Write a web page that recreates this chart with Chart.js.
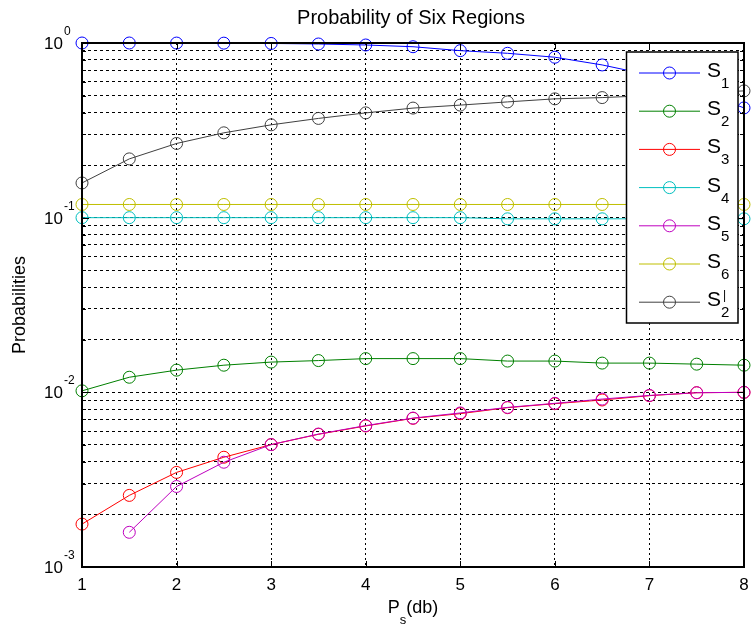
<!DOCTYPE html>
<html>
<head>
<meta charset="utf-8">
<script src="https://cdn.jsdelivr.net/npm/chart.js@4.4.1/dist/chart.umd.min.js"></script>
<style>
  html, body { margin: 0; padding: 0; background: #fff; }
</style>
</head>
<body>
<canvas id="probChart" width="751" height="627"></canvas>
<script>
// P_s in dB, one point every half dB
const psDb = [1, 1.5, 2, 2.5, 3, 3.5, 4, 4.5, 5, 5.5, 6, 6.5, 7, 7.5, 8];

// probabilities
const s1 = [1.0, 1.0, 0.999, 0.998, 0.994, 0.987, 0.974, 0.952, 0.904, 0.873, 0.829, 0.749, 0.656, 0.539, 0.425];
const s2 = [0.0102, 0.0122, 0.0134, 0.0143, 0.0149, 0.0152, 0.0156, 0.0156, 0.0156, 0.0151, 0.0151, 0.0147, 0.0147, 0.0145, 0.0143];
const s3 = [0.00176, 0.00257, 0.00348, 0.00425, 0.00502, 0.00575, 0.00642, 0.0071, 0.00755, 0.00817, 0.00861, 0.00904, 0.00957, 0.00995, 0.0100];
const s4 = [0.1, 0.1, 0.1, 0.1, 0.1, 0.1, 0.1, 0.1, 0.1, 0.0985, 0.0985, 0.0985, 0.0985, 0.0985, 0.0985];
const s5 = [null, 0.00158, 0.00289, 0.00398, 0.00502, 0.00577, 0.00645, 0.00712, 0.00762, 0.0082, 0.00865, 0.00915, 0.0096, 0.00995, 0.0100];
const s6 = [0.119, 0.119, 0.119, 0.119, 0.119, 0.119, 0.119, 0.119, 0.119, 0.119, 0.119, 0.119, 0.119, 0.119, 0.119];
const s2prime = [0.158, 0.217, 0.266, 0.306, 0.340, 0.370, 0.398, 0.424, 0.441, 0.460, 0.479, 0.487, 0.500, 0.515, 0.532];

// ticks
const xTicks = [1, 2, 3, 4, 5, 6, 7, 8];
const yDecades = [0.001, 0.01, 0.1, 1];
const yDecadeExp = ['-3', '-2', '-1', '0'];

// legend text pieces: base, subscript, superscript
const seriesNames = [
  ['S', '1', ''],
  ['S', '2', ''],
  ['S', '3', ''],
  ['S', '4', ''],
  ['S', '5', ''],
  ['S', '6', ''],
  ['S', '2', '|']
];
const seriesValues = [s1, s2, s3, s4, s5, s6, s2prime];
const seriesColors = ['#0000ff', '#008000', '#ff0000', '#00bfbf', '#bf00bf', '#bfbf00', '#404040'];

const FONT = "'Liberation Sans', Arial, sans-serif";

// minor + major grid values for the log axis
const yGridValues = [];
for (let i = 0; i < yDecades.length - 1; i++) {
  for (let m = 1; m <= 9; m++) {
    yGridValues.push(+(m * yDecades[i]).toPrecision(3));
  }
}
yGridValues.push(yDecades[yDecades.length - 1]);

const datasets = seriesValues.map((vals, i) => ({
  label: seriesNames[i].join(''),
  data: vals.map((v, j) => ({ x: psDb[j], y: v })),
  borderColor: seriesColors[i],
  borderWidth: 1,
  pointStyle: 'circle',
  pointRadius: 6,
  pointHoverRadius: 6,
  pointBorderWidth: 1,
  pointBorderColor: seriesColors[i],
  pointBackgroundColor: 'rgba(0,0,0,0)',
  tension: 0,
  spanGaps: false,
  clip: false,
  order: seriesValues.length - i // matlab draws the last series on top
}));

// axes box, tick marks, labels, title and legend
const decor = {
  id: 'decor',
  beforeDraw(chart) {
    const ctx = chart.ctx;
    ctx.save();
    ctx.fillStyle = '#fff';
    ctx.fillRect(0, 0, chart.width, chart.height);
    ctx.restore();
  },
  afterDatasetsDraw(chart) {
    const ctx = chart.ctx;
    const a = chart.chartArea;
    const xs = chart.scales.x, ys = chart.scales.y;
    ctx.save();
    ctx.strokeStyle = '#000';
    ctx.lineWidth = 1;
    ctx.beginPath();
    xTicks.forEach(v => {
      const px = Math.round(xs.getPixelForValue(v)) + 0.5;
      ctx.moveTo(px, a.bottom); ctx.lineTo(px, a.bottom - 6);
      ctx.moveTo(px, a.top); ctx.lineTo(px, a.top + 6);
    });
    yGridValues.forEach(v => {
      const py = Math.round(ys.getPixelForValue(v)) + 0.5;
      const len = yDecades.includes(v) ? 7 : 4;
      ctx.moveTo(a.left, py); ctx.lineTo(a.left + len, py);
      ctx.moveTo(a.right, py); ctx.lineTo(a.right - len, py);
    });
    ctx.stroke();
    ctx.lineWidth = 2;
    ctx.strokeRect(a.left, a.top, a.right - a.left, a.bottom - a.top);
    ctx.restore();
  },
  afterDraw(chart) {
    const ctx = chart.ctx;
    const a = chart.chartArea;
    const xs = chart.scales.x, ys = chart.scales.y;
    const midX = (a.left + a.right) / 2;
    ctx.save();
    ctx.fillStyle = '#000';

    // x tick labels
    ctx.font = '17px ' + FONT;
    ctx.textAlign = 'center';
    ctx.textBaseline = 'alphabetic';
    xTicks.forEach(v => ctx.fillText(String(v), xs.getPixelForValue(v), a.bottom + 23));

    // y tick labels 10^n
    yDecades.forEach((v, i) => {
      const py = ys.getPixelForValue(v);
      ctx.font = '17px ' + FONT;
      ctx.textAlign = 'right';
      ctx.fillText('10', 63, py + 6);
      ctx.font = '12px ' + FONT;
      ctx.textAlign = 'left';
      ctx.fillText(yDecadeExp[i], 64, py - 8);
    });

    // title
    ctx.font = '20px ' + FONT;
    ctx.textAlign = 'center';
    ctx.fillText('Probability of Six Regions', midX - 2, 24);

    // y axis title
    ctx.save();
    ctx.translate(25, (a.top + a.bottom) / 2);
    ctx.rotate(-Math.PI / 2);
    ctx.font = '18px ' + FONT;
    ctx.textAlign = 'center';
    ctx.fillText('Probabilities', 0, 0);
    ctx.restore();

    // x axis title P_s(db)
    ctx.textAlign = 'left';
    ctx.font = '18px ' + FONT;
    const wP = ctx.measureText('P').width;
    const wRest = ctx.measureText('(db)').width;
    ctx.font = '13px ' + FONT;
    const wS = ctx.measureText('s').width;
    let x0 = midX - (wP + wS + wRest) / 2;
    ctx.font = '18px ' + FONT;
    ctx.fillText('P', x0, 613);
    ctx.font = '13px ' + FONT;
    ctx.fillText('s', x0 + wP, 624);
    ctx.font = '18px ' + FONT;
    ctx.fillText('(db)', x0 + wP + wS, 613);

    // legend
    const lx = 626.5, ly = 52, lw = 111.5, lh = 271;
    ctx.fillStyle = '#fff';
    ctx.fillRect(lx, ly, lw, lh);
    ctx.strokeStyle = '#000';
    ctx.lineWidth = 1.5;
    ctx.strokeRect(lx, ly, lw, lh);
    seriesNames.forEach((parts, i) => {
      const cy = 73 + i * 38.2;
      ctx.strokeStyle = seriesColors[i];
      ctx.lineWidth = 1;
      ctx.beginPath();
      ctx.moveTo(639, cy); ctx.lineTo(700, cy);
      ctx.stroke();
      ctx.beginPath();
      ctx.arc(669.5, cy, 6, 0, Math.PI * 2);
      ctx.stroke();
      ctx.fillStyle = '#000';
      ctx.textAlign = 'left';
      ctx.font = '21px ' + FONT;
      ctx.fillText(parts[0], 707, cy + 4);
      ctx.font = '15px ' + FONT;
      ctx.fillText(parts[1], 721, cy + 15);
      if (parts[2]) {
        ctx.font = '12px ' + FONT;
        ctx.fillText(parts[2], 723, cy - 3);
      }
    });
    ctx.restore();
  }
};

new Chart(document.getElementById('probChart'), {
  type: 'line',
  data: { datasets: datasets },
  options: {
    responsive: false,
    animation: false,
    events: [],
    layout: { padding: { top: 43, right: 3, bottom: 0, left: 0 } },
    plugins: {
      legend: { display: false },
      title: { display: false },
      tooltip: { enabled: false }
    },
    scales: {
      x: {
        type: 'linear',
        min: 1,
        max: 8,
        ticks: { display: false, stepSize: 1 },
        afterBuildTicks: scale => { scale.ticks = xTicks.map(v => ({ value: v })); },
        afterFit: scale => { scale.height = 60; },
        grid: { color: '#000', lineWidth: 1, drawTicks: false },
        border: { display: false, dash: [2, 3] }
      },
      y: {
        type: 'logarithmic',
        min: 0.001,
        max: 1,
        ticks: { display: false },
        afterBuildTicks: scale => { scale.ticks = yGridValues.map(v => ({ value: v })); },
        afterFit: scale => { scale.width = 82; },
        grid: { color: '#000', lineWidth: 1, drawTicks: false },
        border: { display: false, dash: [3, 3] }
      }
    }
  },
  plugins: [decor]
});
</script>
</body>
</html>
